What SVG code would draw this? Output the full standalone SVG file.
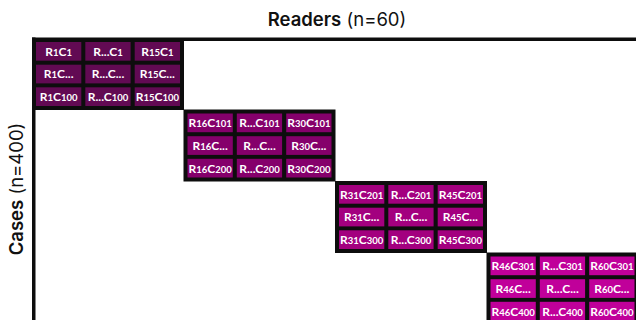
<svg xmlns="http://www.w3.org/2000/svg" width="636" height="320" viewBox="0 0 636 320">
<style>
.t{font-family:Inter,"Noto Sans","Liberation Sans",sans-serif;font-size:18.5px;fill:#111}
.tb{font-weight:600}
.bk{fill:#0d0d0d}
.c{font-family:Lato,"Noto Sans","Liberation Sans",sans-serif;font-size:12px;font-weight:700;fill:#fff;text-anchor:middle}
.d{font-size:9.5px}
.b1 rect.cell{fill:#620a53}
.b2 rect.cell{fill:#85006b}
.b3 rect.cell{fill:#a3007f}
.b4 rect.cell{fill:#c0009a}
</style>
<rect width="636" height="320" fill="#fff"/>
<text class="t" x="337" y="26" text-anchor="middle"><tspan class="tb">Readers</tspan> (n=60)</text>
<text class="t" transform="translate(23,189) rotate(-90)" text-anchor="middle"><tspan class="tb">Cases</tspan> (n=400)</text>
<g id="axes">
<rect class="bk" x="32" y="37.5" width="604" height="3.5"/>
<rect class="bk" x="32" y="37.5" width="3.5" height="283"/>
</g>
<g id="connectors"/>
<g id="block1" class="b1" transform="translate(32,38)">
<rect class="bk" width="152" height="72"/>
<rect class="cell" x="4" y="4" width="45.3" height="18.7"/><rect class="cell" x="53.3" y="4" width="45.3" height="18.7"/><rect class="cell" x="102.7" y="4" width="45.3" height="18.7"/>
<rect class="cell" x="4" y="26.7" width="45.3" height="18.7"/><rect class="cell" x="53.3" y="26.7" width="45.3" height="18.7"/><rect class="cell" x="102.7" y="26.7" width="45.3" height="18.7"/>
<rect class="cell" x="4" y="49.3" width="45.3" height="18.7"/><rect class="cell" x="53.3" y="49.3" width="45.3" height="18.7"/><rect class="cell" x="102.7" y="49.3" width="45.3" height="18.7"/>
<text class="c" x="26.7" y="17.7">R<tspan class="d">1</tspan>C<tspan class="d">1</tspan></text>
<text class="c" x="76" y="17.7">R...C<tspan class="d">1</tspan></text>
<text class="c" x="125.3" y="17.7">R<tspan class="d">15</tspan>C<tspan class="d">1</tspan></text>
<text class="c" x="26.7" y="40.4">R<tspan class="d">1</tspan>C...</text>
<text class="c" x="76" y="40.4">R...C...</text>
<text class="c" x="125.3" y="40.4">R<tspan class="d">15</tspan>C...</text>
<text class="c" x="26.7" y="63">R<tspan class="d">1</tspan>C<tspan class="d">100</tspan></text>
<text class="c" x="76" y="63">R...C<tspan class="d">100</tspan></text>
<text class="c" x="125.3" y="63">R<tspan class="d">15</tspan>C<tspan class="d">100</tspan></text>
</g>
<g id="block2" class="b2" transform="translate(183.5,109.5)">
<rect class="bk" width="152" height="72"/>
<rect class="cell" x="4" y="4" width="45.3" height="18.7"/><rect class="cell" x="53.3" y="4" width="45.3" height="18.7"/><rect class="cell" x="102.7" y="4" width="45.3" height="18.7"/>
<rect class="cell" x="4" y="26.7" width="45.3" height="18.7"/><rect class="cell" x="53.3" y="26.7" width="45.3" height="18.7"/><rect class="cell" x="102.7" y="26.7" width="45.3" height="18.7"/>
<rect class="cell" x="4" y="49.3" width="45.3" height="18.7"/><rect class="cell" x="53.3" y="49.3" width="45.3" height="18.7"/><rect class="cell" x="102.7" y="49.3" width="45.3" height="18.7"/>
<text class="c" x="26.7" y="17.7">R<tspan class="d">16</tspan>C<tspan class="d">101</tspan></text>
<text class="c" x="76" y="17.7">R...C<tspan class="d">101</tspan></text>
<text class="c" x="125.3" y="17.7">R<tspan class="d">30</tspan>C<tspan class="d">101</tspan></text>
<text class="c" x="26.7" y="40.4">R<tspan class="d">16</tspan>C...</text>
<text class="c" x="76" y="40.4">R...C...</text>
<text class="c" x="125.3" y="40.4">R<tspan class="d">30</tspan>C...</text>
<text class="c" x="26.7" y="63">R<tspan class="d">16</tspan>C<tspan class="d">200</tspan></text>
<text class="c" x="76" y="63">R...C<tspan class="d">200</tspan></text>
<text class="c" x="125.3" y="63">R<tspan class="d">30</tspan>C<tspan class="d">200</tspan></text>
</g>
<g id="block3" class="b3" transform="translate(335,181)">
<rect class="bk" width="152" height="72"/>
<rect class="cell" x="4" y="4" width="45.3" height="18.7"/><rect class="cell" x="53.3" y="4" width="45.3" height="18.7"/><rect class="cell" x="102.7" y="4" width="45.3" height="18.7"/>
<rect class="cell" x="4" y="26.7" width="45.3" height="18.7"/><rect class="cell" x="53.3" y="26.7" width="45.3" height="18.7"/><rect class="cell" x="102.7" y="26.7" width="45.3" height="18.7"/>
<rect class="cell" x="4" y="49.3" width="45.3" height="18.7"/><rect class="cell" x="53.3" y="49.3" width="45.3" height="18.7"/><rect class="cell" x="102.7" y="49.3" width="45.3" height="18.7"/>
<text class="c" x="26.7" y="17.7">R<tspan class="d">31</tspan>C<tspan class="d">201</tspan></text>
<text class="c" x="76" y="17.7">R...C<tspan class="d">201</tspan></text>
<text class="c" x="125.3" y="17.7">R<tspan class="d">45</tspan>C<tspan class="d">201</tspan></text>
<text class="c" x="26.7" y="40.4">R<tspan class="d">31</tspan>C...</text>
<text class="c" x="76" y="40.4">R...C...</text>
<text class="c" x="125.3" y="40.4">R<tspan class="d">45</tspan>C...</text>
<text class="c" x="26.7" y="63">R<tspan class="d">31</tspan>C<tspan class="d">300</tspan></text>
<text class="c" x="76" y="63">R...C<tspan class="d">300</tspan></text>
<text class="c" x="125.3" y="63">R<tspan class="d">45</tspan>C<tspan class="d">300</tspan></text>
</g>
<g id="block4" class="b4" transform="translate(486.5,252.5)">
<rect class="bk" width="152" height="72"/>
<rect class="cell" x="4" y="4" width="45.3" height="18.7"/><rect class="cell" x="53.3" y="4" width="45.3" height="18.7"/><rect class="cell" x="102.7" y="4" width="45.3" height="18.7"/>
<rect class="cell" x="4" y="26.7" width="45.3" height="18.7"/><rect class="cell" x="53.3" y="26.7" width="45.3" height="18.7"/><rect class="cell" x="102.7" y="26.7" width="45.3" height="18.7"/>
<rect class="cell" x="4" y="49.3" width="45.3" height="18.7"/><rect class="cell" x="53.3" y="49.3" width="45.3" height="18.7"/><rect class="cell" x="102.7" y="49.3" width="45.3" height="18.7"/>
<text class="c" x="26.7" y="17.7">R<tspan class="d">46</tspan>C<tspan class="d">301</tspan></text>
<text class="c" x="76" y="17.7">R...C<tspan class="d">301</tspan></text>
<text class="c" x="125.3" y="17.7">R<tspan class="d">60</tspan>C<tspan class="d">301</tspan></text>
<text class="c" x="26.7" y="40.4">R<tspan class="d">46</tspan>C...</text>
<text class="c" x="76" y="40.4">R...C...</text>
<text class="c" x="125.3" y="40.4">R<tspan class="d">60</tspan>C...</text>
<text class="c" x="26.7" y="63">R<tspan class="d">46</tspan>C<tspan class="d">400</tspan></text>
<text class="c" x="76" y="63">R...C<tspan class="d">400</tspan></text>
<text class="c" x="125.3" y="63">R<tspan class="d">60</tspan>C<tspan class="d">400</tspan></text>
</g>
</svg>
